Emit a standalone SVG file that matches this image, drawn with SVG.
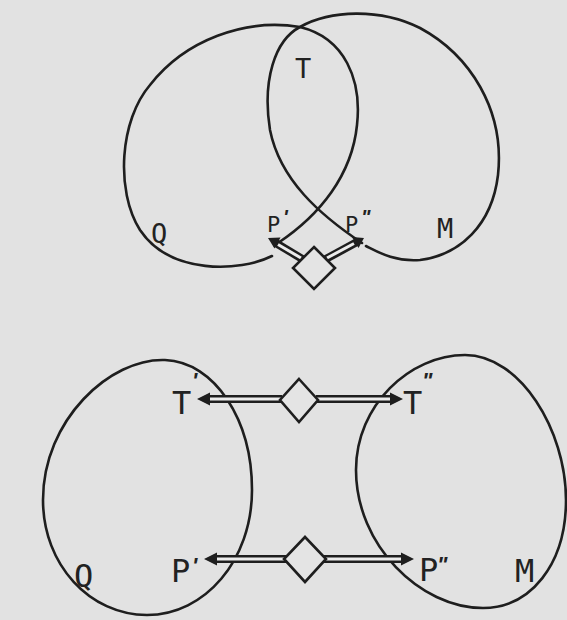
<svg xmlns="http://www.w3.org/2000/svg" width="567" height="620" viewBox="0 0 567 620">
<style>
.bg{fill:#e2e2e2}
.loop{fill:none;stroke:#1e1e1e;stroke-width:2.6;stroke-linecap:round}
.band{stroke:#1e1e1e;stroke-width:8;stroke-linecap:butt}
.inner{stroke:#ececec;stroke-width:3;stroke-linecap:butt}
.head{fill:#1e1e1e}
.dia{fill:#e4e4e4;stroke:#1e1e1e;stroke-width:2.6;stroke-linejoin:miter}
.lbl{font-family:"DejaVu Sans Mono","Liberation Mono",monospace;fill:#222}
.big{font-size:32px}
.mid{font-size:27px}
.small{font-size:22px}
.pr{font-family:"Liberation Sans","DejaVu Sans",sans-serif;font-weight:bold;font-style:italic;fill:#222}
</style>
<rect class="bg" x="0" y="0" width="567" height="620"/>

<g id="top-Q">
<path class="loop" d="M272,256 C240,272 170,275 140,230 C115,190 120,120 150,85 C185,40 245,18 300,27 C345,38 362,80 357,125 C352,175 320,215 278,243"/>
<text class="lbl mid" x="151" y="243">Q</text>
</g>
<g id="top-M">
<path class="loop" d="M362,243 C320,215 280,180 270,130 C262,80 275,40 300,27 C330,10 380,8 420,28 C470,55 505,110 498,175 C492,225 460,255 420,260 C395,262 378,252 366,246"/>
<text class="lbl mid" x="437" y="238">M</text>
</g>
<g id="top-T"><text class="lbl mid" x="295" y="78">T</text></g>
<g id="top-P1"><text class="lbl small" x="267" y="232">P</text><text class="pr" x="283" y="224" font-size="20">'</text></g>
<g id="top-P2"><text class="lbl small" x="345" y="232">P</text><text class="pr" x="361" y="224" font-size="20">"</text></g>

<g id="bot-Q">
<path class="loop" d="M165,360 C215,362 252,420 252,490 C252,560 205,615 147,615 C90,615 43,565 43,500 C43,420 110,358 165,360 Z"/>
<text class="lbl big" x="74" y="587">Q</text>
</g>
<g id="bot-M">
<path class="loop" d="M465,355 C520,355 566,430 566,500 C566,565 530,608 483,608 C420,608 356,545 356,470 C356,405 410,355 465,355 Z"/>
<text class="lbl big" x="515" y="582">M</text>
</g>
<g id="bot-T1"><text class="lbl big" x="172" y="414">T</text><text class="pr" x="192" y="388" font-size="22">'</text></g>
<g id="bot-T2"><text class="lbl big" x="403" y="414">T</text><text class="pr" x="422" y="388" font-size="22">"</text></g>
<g id="bot-P1"><text class="lbl big" x="171" y="582">P</text><text class="pr" x="192" y="573" font-size="22">'</text></g>
<g id="bot-P2"><text class="lbl big" x="419" y="581">P</text><text class="pr" x="437" y="572" font-size="22">"</text></g>

<g id="connectors">
<!-- top figure -->
<line class="band" x1="304" y1="260" x2="275" y2="242.5"/>
<line class="inner" x1="301" y1="258" x2="278" y2="244.5"/>
<polygon class="head" points="268,238 280.5,237.5 274.5,248.5"/>
<line class="band" x1="324" y1="260" x2="357" y2="242"/>
<line class="inner" x1="327" y1="258" x2="354" y2="243.5"/>
<polygon class="head" points="364,238 358.5,248 352,237"/>
<polygon class="dia" points="314,247 335,268 314,289 293,268"/>
<!-- bottom figure, upper -->
<line class="band" x1="208" y1="399" x2="282" y2="399"/>
<line class="inner" x1="210" y1="399" x2="282" y2="399"/>
<polygon class="head" points="197,399 210,392.5 210,405.5"/>
<line class="band" x1="316" y1="399" x2="392" y2="399"/>
<line class="inner" x1="316" y1="399" x2="390" y2="399"/>
<polygon class="head" points="403,399 390,392.5 390,405.5"/>
<polygon class="dia" points="299,379 318,400 299,422 280,400"/>
<!-- bottom figure, lower -->
<line class="band" x1="215" y1="559" x2="286" y2="559"/>
<line class="inner" x1="217" y1="559" x2="286" y2="559"/>
<polygon class="head" points="204,559 217,552.5 217,565.5"/>
<line class="band" x1="324" y1="559" x2="403" y2="559"/>
<line class="inner" x1="324" y1="559" x2="401" y2="559"/>
<polygon class="head" points="414,559 401,552.5 401,565.5"/>
<polygon class="dia" points="305,537 326,559 305,582 284,559"/>
</g>
</svg>
